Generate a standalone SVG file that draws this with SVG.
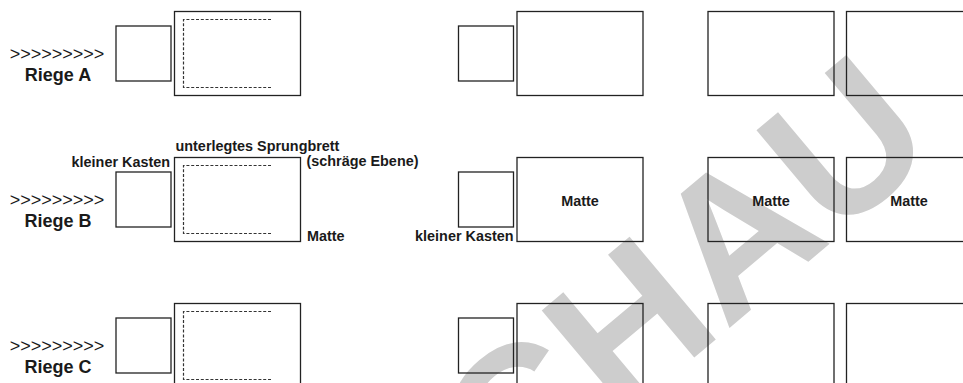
<svg xmlns="http://www.w3.org/2000/svg" width="963" height="383" viewBox="0 0 963 383">
<style>
.box{fill:none;stroke:#222;stroke-width:1.3}
.dot{fill:none;stroke:#333;stroke-width:1.2;stroke-dasharray:3 1.8}
.lbl{font-family:"Liberation Sans",Arial,sans-serif;font-weight:bold;font-size:14.4px;fill:#1a1a1a}
.riege{font-family:"Liberation Sans",Arial,sans-serif;font-weight:bold;font-size:18px;fill:#1a1a1a;text-anchor:middle}
.chev{font-family:"Liberation Sans",Arial,sans-serif;font-size:18px;fill:#1a1a1a;text-anchor:middle}
.wm{font-family:"Liberation Sans",Arial,sans-serif;font-weight:bold;font-size:195px;fill:#cdcdcd}
</style>
<defs>
<g id="leftStation">
<rect class="box" x="116" y="26" width="55" height="55"/>
<rect class="box" x="174.5" y="11.5" width="126" height="84"/>
<path class="dot" d="M271 19.5 H183.5 V87.5 H271"/>
</g>
<g id="rightStation">
<rect class="box" x="458.5" y="26" width="55" height="55"/>
<rect class="box" x="517" y="11.5" width="126" height="84"/>
<rect class="box" x="708" y="11.5" width="126" height="84"/>
<rect class="box" x="846.5" y="11.5" width="126" height="84"/>
</g>
</defs>
<g id="watermark">
<text class="wm" transform="translate(510,512) rotate(-40)">CHAU</text>
</g>
<g id="riege-a">
<text class="chev" x="57" y="60">&gt;&gt;&gt;&gt;&gt;&gt;&gt;&gt;&gt;</text>
<text class="riege" x="58" y="81">Riege A</text>
<use href="#leftStation"/>
<use href="#rightStation"/>
</g>
<g id="riege-b">
<text class="chev" x="57" y="206">&gt;&gt;&gt;&gt;&gt;&gt;&gt;&gt;&gt;</text>
<text class="riege" x="58" y="227">Riege B</text>
<use href="#leftStation" y="146"/>
<use href="#rightStation" y="146"/>
<text class="lbl" x="170" y="167" text-anchor="end">kleiner Kasten</text>
<text class="lbl" x="175.5" y="151">unterlegtes Sprungbrett</text>
<text class="lbl" x="306.5" y="166">(schräge Ebene)</text>
<text class="lbl" x="307" y="241">Matte</text>
<text class="lbl" x="513.5" y="241" text-anchor="end">kleiner Kasten</text>
<text class="lbl" x="580" y="206" text-anchor="middle">Matte</text>
<text class="lbl" x="771" y="206" text-anchor="middle">Matte</text>
<text class="lbl" x="909" y="206" text-anchor="middle">Matte</text>
</g>
<g id="riege-c">
<text class="chev" x="57" y="352">&gt;&gt;&gt;&gt;&gt;&gt;&gt;&gt;&gt;</text>
<text class="riege" x="58" y="373">Riege C</text>
<use href="#leftStation" y="292"/>
<use href="#rightStation" y="292"/>
</g>
</svg>
